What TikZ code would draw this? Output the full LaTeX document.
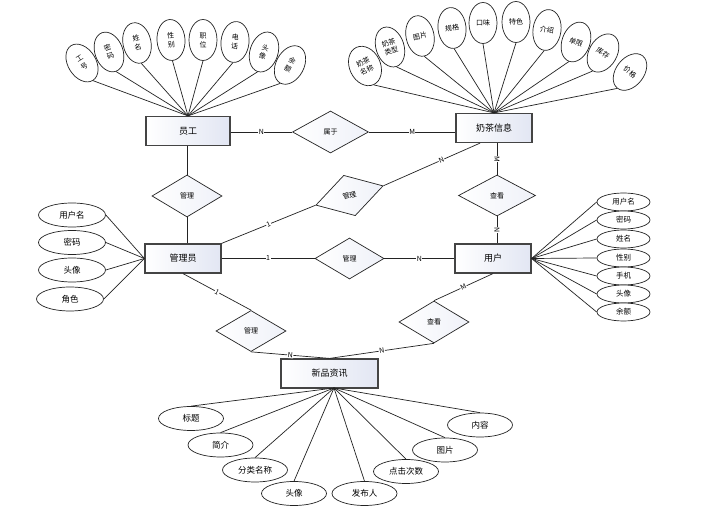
\documentclass[tikz,border=0pt]{standalone}
\usepackage{fontspec}
\setmainfont{Noto Sans CJK SC}
\usetikzlibrary{shapes.geometric,calc}
\definecolor{entfill}{RGB}{226,230,243}
\definecolor{lc}{RGB}{35,35,35}
\begin{document}
\begin{tikzpicture}[x=1pt,y=-1pt,
  ent/.style={draw=lc!85, line width=1.2pt, left color=white, right color=entfill,
    minimum width=#1, minimum height=29pt, inner sep=0pt, font=\fontsize{9}{10}\selectfont},
  ent/.default=76pt,
  rel/.style={diamond, draw=lc, line width=0.7pt, left color=white, right color=entfill!55,
    minimum width=70pt, minimum height=42pt, inner sep=0pt, font=\fontsize{7}{8}\selectfont},
  attrA/.style={ellipse, draw=lc, line width=0.7pt, fill=white, minimum width=28pt,
    minimum height=41pt, inner sep=0pt},
  atxt/.style={inner sep=0pt, align=center, font=\fontsize{7}{9}\selectfont},
  attrH/.style={ellipse, draw=lc, line width=0.7pt, fill=white, minimum width=67pt,
    minimum height=24pt, inner sep=0pt, font=\fontsize{8.5}{9}\selectfont},
  attrU/.style={ellipse, draw=lc, line width=0.7pt, fill=white, minimum width=53pt,
    minimum height=18pt, inner sep=0pt, font=\fontsize{7.5}{8}\selectfont},
  attrN/.style={ellipse, draw=lc, line width=0.7pt, fill=white, minimum width=65pt,
    minimum height=24pt, inner sep=0pt, font=\fontsize{8.5}{9}\selectfont},
  ln/.style={draw=lc, line width=0.7pt},
  card/.style={fill=white, inner sep=0.5pt, font=\fontsize{7}{7}\selectfont}
]
\useasboundingbox[fill=white] (0,0) rectangle (705,510);

% ---------- attributes of 员工 ----------
\node[attrA, rotate=32]  (a1) at (82,63)  {};
\node[attrA, rotate=20]  (a2) at (109,52) {};
\node[attrA, rotate=12]  (a3) at (137,43) {};
\node[attrA, rotate=4]   (a4) at (171,40) {};
\node[attrA, rotate=0]   (a5) at (203,40) {};
\node[attrA, rotate=-6]  (a6) at (235,42) {};
\node[attrA, rotate=-18] (a7) at (264,52) {};
\node[attrA, rotate=-28] (a8) at (290,65) {};
\node[atxt, rotate=32]  (ta1) at (a1) {工\\号};
\node[atxt, rotate=20]  (ta2) at (a2) {密\\码};
\node[atxt, rotate=12]  (ta3) at (a3) {姓\\名};
\node[atxt, rotate=4]   (ta4) at (a4) {性\\别};
\node[atxt, rotate=0]   (ta5) at (a5) {职\\位};
\node[atxt, rotate=-6]  (ta6) at (a6) {电\\话};
\node[atxt, rotate=-18] (ta7) at (a7) {头\\像};
\node[atxt, rotate=-28] (ta8) at (a8) {余\\额};

% ---------- attributes of 奶茶信息 ----------
\node[attrA, minimum width=31pt, rotate=25] (b1) at (365,66) {};
\node[attrA, rotate=18]  (b2) at (390,47) {};
\node[attrA, rotate=12]  (b3) at (420,36) {};
\node[attrA, rotate=6]   (b4) at (452,28) {};
\node[attrA, rotate=0]   (b5) at (483,23) {};
\node[attrA, rotate=0]   (b6) at (516,22) {};
\node[attrA, rotate=-8]  (b7) at (547,30) {};
\node[attrA, rotate=-20] (b8) at (576,42) {};
\node[attrA, rotate=-30] (b9) at (603,53) {};
\node[attrA, rotate=-38] (b10) at (630,72) {};
\node[atxt, rotate=25]  (tb1) at (b1) {奶茶\\名称};
\node[atxt, rotate=18]  (tb2) at (b2) {奶茶\\类型};
\node[atxt, rotate=12]  (tb3) at (b3) {图片};
\node[atxt, rotate=6]   (tb4) at (b4) {规格};
\node[atxt, rotate=0]   (tb5) at (b5) {口味};
\node[atxt, rotate=0]   (tb6) at (b6) {特色};
\node[atxt, rotate=-8]  (tb7) at (b7) {介绍};
\node[atxt, rotate=-20] (tb8) at (b8) {单限};
\node[atxt, rotate=-30] (tb9) at (b9) {库存};
\node[atxt, rotate=-38] (tb10) at (b10) {价格};

% ---------- entities ----------
\node[ent=84pt] (yg)  at (188,131)   {员工};
\node[ent]      (nc)  at (494,128)   {奶茶信息};
\node[ent]      (gly) at (183,258.5) {管理员};
\node[ent]      (yh)  at (493,258.5) {用户};
\node[ent=97pt] (xp)  at (329.5,373.5) {新品资讯};

% ---------- relationships ----------
\node[rel, minimum width=76pt] (sy) at (330.5,132) {属于};
\node[rel] (m1) at (187,196) {管理};
\node[rel, rotate=16] (m2) at (349.5,195.5) {管理};
\node[rel, minimum width=69pt, minimum height=41pt] (m3) at (349.5,258.5) {管理};
\node[rel, minimum width=77pt, minimum height=41pt] (c1) at (497,195.5) {查看};
\node[rel, minimum height=41pt] (m4) at (251,331) {管理};
\node[rel, minimum height=42pt] (c2) at (434,322) {查看};

% ---------- attribute lines ----------
\foreach \n in {a1,a2,a3,a4,a5,a6,a7,a8} \draw[ln] (\n.south) -- (yg.north);
\foreach \n in {b1,b2,b3,b4,b5,b6,b7,b8,b9,b10} \draw[ln] (\n.south) -- (nc.north);

% ---------- attributes of 管理员 ----------
\node[attrH] (g1) at (72,215)   {用户名};
\node[attrH] (g2) at (72,242.5) {密码};
\node[attrH] (g3) at (72,270)   {头像};
\node[attrH] (g4) at (70,299)   {角色};
\foreach \n in {g1,g2,g3,g4} \draw[ln] (\n.east) -- (gly.west);

% ---------- attributes of 用户 ----------
\node[attrU] (u1) at (623.5,202) {用户名};
\node[attrU] (u2) at (623.5,220) {密码};
\node[attrU] (u3) at (623.5,239) {姓名};
\node[attrU] (u4) at (623.5,258) {性别};
\node[attrU] (u5) at (623.5,276) {手机};
\node[attrU] (u6) at (623.5,294) {头像};
\node[attrU] (u7) at (623.5,312) {余额};
\foreach \n in {u1,u2,u3,u4,u5,u6,u7} \draw[ln] (\n.west) -- (yh.east);

% ---------- attributes of 新品资讯 ----------
\coordinate (xc) at (334,388);
\node[attrN] (n1) at (191,418.5) {标题};
\node[attrN] (n2) at (220.5,445) {简介};
\node[attrN] (n3) at (255,470)   {分类名称};
\node[attrN] (n4) at (294,493.5) {头像};
\node[attrN] (n5) at (364.5,493.5) {发布人};
\node[attrN] (n6) at (406,471.5) {点击次数};
\node[attrN] (n7) at (445,450)   {图片};
\node[attrN] (n8) at (480,425)   {内容};
\foreach \n in {n1,n2,n3,n4,n5,n6,n7,n8} \draw[ln] (\n.north) -- (xc);

% ---------- relationship lines ----------
\draw[ln] (yg.east |- sy.west) -- node[card]{N} (sy.west);
\draw[ln] (sy.east) -- node[card]{M} (sy.east -| nc.west);
\draw[ln] (m1.north) -- (m1.north |- yg.south);
\draw[ln] (m1.south) -- (m1.south |- gly.north);
\draw[ln] (gly.north east) -- node[card, sloped]{1} (m2.west);
\coordinate (ncb) at ($(nc.south west)!0.32!(nc.south east)$);
\draw[ln] (m2.east) -- node[card, sloped, pos=0.6]{N} (ncb);
\draw[ln] (gly.east) -- node[card]{1} (m3.west);
\draw[ln] (m3.east) -- node[card]{N} (yh.west);
\draw[ln] (c1.north) -- node[card, rotate=-90]{M} (c1.north |- nc.south);
\draw[ln] (c1.south) -- node[card, rotate=-90]{N} (c1.south |- yh.north);
\draw[ln] (gly.south) -- node[card, sloped]{1} (m4.north);
\draw[ln] (m4.south) -- node[card, sloped]{N} (xp.north);
\draw[ln] (yh.south) -- node[card, sloped]{M} (c2.north);
\draw[ln] (c2.south) -- node[card, sloped]{N} (xp.north);
\end{tikzpicture}
\end{document}
